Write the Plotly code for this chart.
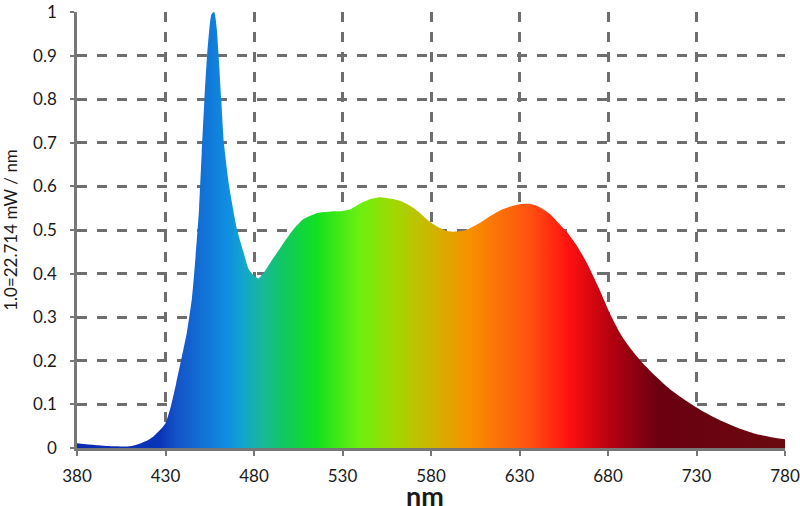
import plotly.graph_objects as go

# Spectral power distribution (normalised)
wavelength = [380, 390, 400, 410, 414, 420, 423, 427, 430, 433, 436, 439, 442, 445, 447, 449,
              450.5, 452, 453.5, 455, 456, 457.5, 459, 460, 461.5, 463, 466, 470.5, 474, 477,
              480, 482.5, 486, 490, 495, 502, 508, 515, 520, 525, 529, 534, 540, 546, 551,
              557, 563, 568, 574, 579, 583, 588, 593, 598, 602, 608, 613, 619, 625, 630, 634,
              638, 642, 647, 652, 657, 662, 668, 675, 681, 687, 692, 699, 706, 715, 725, 734,
              743, 752, 762, 771, 780]
intensity = [0.011, 0.007, 0.004, 0.004, 0.008, 0.018, 0.026, 0.042, 0.057, 0.095, 0.148, 0.205,
             0.263, 0.345, 0.44, 0.55, 0.68, 0.80, 0.90, 0.97, 0.995, 1.0, 0.96, 0.90, 0.80,
             0.70, 0.60, 0.50, 0.45, 0.41, 0.395, 0.389, 0.405, 0.43, 0.46, 0.50, 0.525, 0.538,
             0.541, 0.543, 0.543, 0.547, 0.561, 0.571, 0.575, 0.572, 0.566, 0.556, 0.538,
             0.52, 0.509, 0.499, 0.496, 0.498, 0.504, 0.517, 0.531, 0.545, 0.554, 0.559, 0.560,
             0.558, 0.551, 0.537, 0.516, 0.494, 0.466, 0.425, 0.365, 0.309, 0.262, 0.232, 0.197,
             0.168, 0.135, 0.106, 0.083, 0.064, 0.048, 0.034, 0.026, 0.020]

x_ticks = [380, 430, 480, 530, 580, 630, 680, 730, 780]
y_ticks = [0, 0.1, 0.2, 0.3, 0.4, 0.5, 0.6, 0.7, 0.8, 0.9, 1.0]
y_tick_labels = ["0", "0.1", "0.2", "0.3", "0.4", "0.5", "0.6", "0.7", "0.8", "0.9", "1"]
x_title = "nm"
y_title = "1.0=22.714 mW / nm"

# Spectrum colours along the wavelength axis
grad_nm = [380, 427, 436, 465, 474, 485, 497, 515, 540, 559, 581, 602, 636, 658, 683, 708, 780]
grad_col = ["#0a2ab0", "#0a35b8", "#1452c8", "#0f8ee2", "#12a6cc", "#18b898", "#10c860",
            "#12e020", "#6ef010", "#a0d800", "#d0b400", "#f89000", "#ff5010", "#ff1010",
            "#b00010", "#6a0010", "#6a0a10"]

lo, hi = grad_nm[0], grad_nm[-1]
colorscale = [[(n - lo) / (hi - lo), c] for n, c in zip(grad_nm, grad_col)]

grid_col = "#6e6e6e"
font_family = "Lato, 'Noto Sans', sans-serif"

fig = go.Figure()
fig.add_trace(go.Scatter(
    x=wavelength, y=intensity,
    mode="lines",
    line=dict(width=0, shape="spline", smoothing=0.6, color="#6a0a10"),
    fill="tozeroy",
    fillgradient=dict(type="horizontal", colorscale=colorscale, start=lo, stop=hi),
    hoverinfo="x+y",
    showlegend=False,
))

fig.update_layout(
    width=800, height=506,
    margin=dict(l=77, r=15, t=12, b=58),
    paper_bgcolor="white", plot_bgcolor="white",
    font=dict(family=font_family, color="#1a1a1a", size=17),
    xaxis=dict(
        range=[380, 780], tickvals=x_ticks, ticktext=[str(v) for v in x_ticks],
        automargin=False,
        showgrid=True, gridcolor=grid_col, gridwidth=2.5, griddash="10px,10px",
        showline=True, linecolor="#777777", linewidth=2.5,
        ticks="outside", ticklen=5, tickwidth=2, tickcolor="#777777",
        ticklabelstandoff=6,
        zeroline=False,
    ),
    yaxis=dict(
        range=[0, 1.0], tickvals=y_ticks, ticktext=y_tick_labels,
        automargin=False,
        showgrid=True, gridcolor=grid_col, gridwidth=2.5, griddash="10px,10px",
        showline=True, linecolor="#777777", linewidth=2.5,
        ticks="outside", ticklen=4, tickwidth=2, tickcolor="#777777",
        ticklabelstandoff=10,
        zeroline=False,
        title=dict(text=y_title, font=dict(size=17, color="#1a1a1a"), standoff=12),
    ),
    annotations=[dict(
        text="<b>" + x_title + "</b>", xref="paper", yref="paper",
        x=0.4915, y=-0.108, xanchor="center", yanchor="middle",
        showarrow=False, font=dict(size=27, color="#1a1a1a"),
    )],
)

fig.write_html("out.html", config={"displayModeBar": False},
               post_script="document.body.style.margin='0';")
